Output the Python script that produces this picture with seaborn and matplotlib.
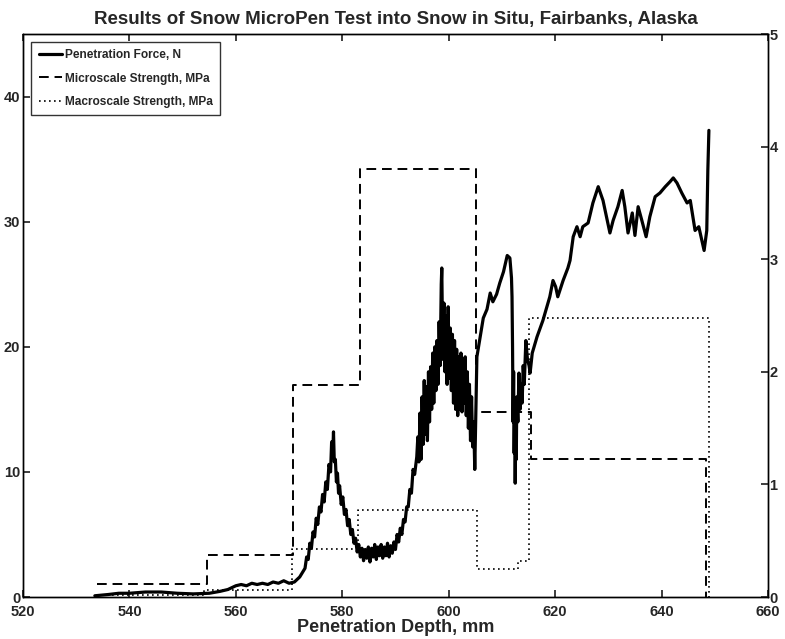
import matplotlib
matplotlib.use("Agg")
import matplotlib.pyplot as plt
import seaborn as sns
import pandas as pd

sns.set_theme(style="white")
plt.rcParams["font.family"] = ["Liberation Sans", "DejaVu Sans"]
plt.rcParams["font.weight"] = "bold"

# Penetration force trace (depth in mm, force in N)
depth_mm = [533.5, 536, 538, 540, 543, 546, 549, 552, 555, 557, 558.5, 560, 561, 562,
            563, 564, 565, 566, 567, 568, 569, 570, 571, 572,
            573.0, 573.3, 573.6, 573.9, 574.2, 574.5, 574.8, 575.1, 575.4, 575.7, 576.0,
            576.3, 576.6, 576.9, 577.2, 577.5, 577.8, 578.0, 578.2, 578.35, 578.5, 578.7,
            578.9, 579.1, 579.3, 579.5, 579.8, 580.1, 580.4, 580.7, 581.0, 581.3, 581.6,
            581.9, 582.2, 582.5, 582.8, 583.1, 583.4, 583.7, 584.0, 584.3, 584.6, 584.9,
            585.2, 585.5, 585.8, 586.1, 586.4, 586.7, 587.0, 587.3, 587.6, 587.9, 588.2,
            588.5, 588.8, 589.1, 589.4, 589.7, 590.0, 590.3, 590.6, 590.9, 591.2, 591.5,
            591.8, 592.1, 592.4, 592.7, 593.0, 593.3, 593.6,
            594.0, 594.2, 594.4, 594.6, 594.8, 595.0, 595.2, 595.4, 595.6, 595.8, 596.0,
            596.2, 596.4, 596.6, 596.8, 597.0, 597.2, 597.4, 597.6, 597.8, 598.0, 598.2,
            598.4, 598.6, 598.7, 598.9, 599.1, 599.3, 599.5, 599.7, 599.9, 600.1, 600.3,
            600.5, 600.7, 600.9, 601.1, 601.3, 601.5, 601.7, 601.9, 602.1, 602.3, 602.5,
            602.7, 602.9, 603.1, 603.3, 603.5, 603.7, 603.9, 604.1, 604.3, 604.5, 604.7,
            604.9, 605.1, 605.3, 605.8, 606.5,
            607.2, 607.8, 608.3, 609, 609.6, 610.3, 611, 611.5, 611.8, 611.9,
            612.0, 612.1, 612.2, 612.3, 612.4, 612.5, 612.6, 612.7, 612.8, 613.0, 613.2,
            613.4, 613.6, 613.8, 614.0, 614.2, 614.5, 614.8, 615.1, 615.3, 615.7,
            616.6, 617.7, 619, 619.6, 620.1, 620.5, 621.5, 622.4, 622.8, 623.4, 624.1,
            624.7, 625.2, 626.2, 627.1, 628.1, 629, 630.3, 630.9, 631.8, 632.6, 633.1,
            633.7, 634.5, 635, 635.6, 636.3, 637.1, 637.8, 638.8, 639.7, 640.7, 641.6,
            642.2, 642.9, 643.8, 644.8, 645.4, 646.3, 647, 648, 648.5, 648.7, 648.9]
force_n = [0.1, 0.2, 0.3, 0.3, 0.4, 0.4, 0.3, 0.25, 0.3, 0.45, 0.6, 0.9, 1.0, 0.9,
           1.1, 1.0, 1.1, 1.0, 1.2, 1.1, 1.3, 1.1, 1.2, 1.6,
           2.3, 3.2, 3.0, 4.3, 3.9, 5.2, 4.8, 6.3, 5.8, 7.2, 6.8,
           8.2, 7.6, 9.2, 8.6, 10.6, 10.0, 12.4, 11.3, 13.2, 10.8, 11.0,
           9.2, 9.9, 8.3, 8.9, 7.4, 8.0, 6.6, 7.0, 5.7, 6.2, 5.0,
           5.4, 4.3, 4.7, 3.6, 4.2, 3.2, 3.9, 2.9, 3.8, 3.1, 4.0,
           2.8, 3.9, 3.2, 4.2, 3.0, 4.0, 3.3, 4.2, 3.1, 4.0, 3.3,
           4.3, 3.2, 4.1, 3.5, 4.4, 3.8, 5.0, 4.4, 5.5, 5.0, 6.2,
           6.0, 7.2, 7.2, 8.6, 8.3, 10.2, 9.8,
           11.2, 12.8, 10.8, 14.7, 11.0, 16.0, 12.2, 17.3, 13.0, 16.8, 12.5,
           18.0, 14.0, 18.4, 15.0, 19.5, 15.5, 20.0, 16.5, 20.5, 17.0, 22.0,
           18.5, 25.0, 26.3, 19.0, 23.5, 18.0, 22.5, 17.0, 23.2, 17.5, 21.5,
           16.5, 21.0, 15.5, 20.5, 15.0, 19.8, 14.5, 19.2, 15.0, 19.5, 14.8,
           19.0, 15.5, 19.2, 14.5, 18.0, 13.5, 17.0, 12.5, 16.0, 12.0, 14.0,
           10.2, 14.5, 19.2, 20.5, 22.3,
           23.0, 24.3, 23.6, 24.2, 25.1, 26.0, 27.3, 27.1, 25.5, 24.0,
           20.0, 14.0, 18.0, 11.5, 15.0, 9.1, 13.5, 11.0, 16.0, 14.0, 17.9,
           15.0, 17.0, 15.5, 18.5, 17.0, 20.5, 19.0, 18.5, 17.9, 19.5,
           20.8, 22.1, 24.0, 25.3, 24.8, 24.0, 25.3, 26.3, 26.9, 28.8, 29.6,
           28.8, 29.6, 29.9, 31.5, 32.8, 31.7, 29.1, 30.1, 31.2, 32.5, 31.2,
           29.1, 30.7, 28.9, 31.2, 30.1, 28.8, 30.4, 32.0, 32.3, 32.8, 33.2,
           33.5, 33.1, 32.3, 31.5, 31.7, 29.3, 29.6, 27.7, 29.3, 34.1, 37.3]

# Layer-averaged strengths (step edges in mm, strength in MPa)
micro_edges = [534.0, 554.6, 570.7, 583.3, 605.1, 615.5, 648.3]
micro_mpa = [0.12, 0.37, 1.88, 3.80, 1.64, 1.23, 0.0]
macro_edges = [534.0, 554.0, 570.5, 583.0, 605.3, 613.0, 615.0, 649.0]
macro_mpa = [0.02, 0.06, 0.43, 0.77, 0.25, 0.32, 2.48, 0.0]

x_ticks = [520, 540, 560, 580, 600, 620, 640, 660]
left_ticks = [0, 10, 20, 30, 40]
right_ticks = [0, 1, 2, 3, 4, 5]

force_df = pd.DataFrame({"depth": depth_mm, "force": force_n})
micro_df = pd.DataFrame({"depth": micro_edges, "mpa": micro_mpa})
macro_df = pd.DataFrame({"depth": macro_edges, "mpa": macro_mpa})

fig = plt.figure(figsize=(7.85, 6.39), dpi=100)
ax = fig.add_axes([0.0293, 0.0657, 0.949, 0.881])
ax2 = ax.twinx()

sns.lineplot(data=force_df, x="depth", y="force", ax=ax, color="black",
             linewidth=2.3, sort=False, estimator=None,
             label="Penetration Force, N", legend=False)
sns.lineplot(data=micro_df, x="depth", y="mpa", ax=ax2, color="black",
             linewidth=1.4, linestyle=(0, (5, 3)),
             drawstyle="steps-post", sort=False, estimator=None,
             label="Microscale Strength, MPa", legend=False)
sns.lineplot(data=macro_df, x="depth", y="mpa", ax=ax2, color="black",
             linewidth=1.2, linestyle=(0, (1, 2)),
             drawstyle="steps-post", sort=False, estimator=None,
             label="Macroscale Strength, MPa", legend=False)

ax.set_xlim(520, 660)
ax.set_ylim(0, 45)
ax2.set_ylim(0, 5)
ax.set_xticks(x_ticks)
ax.set_yticks(left_ticks)
ax2.set_yticks(right_ticks)
ax.set_xticklabels([str(v) for v in x_ticks], fontsize=10.5, fontweight="bold")
ax.set_yticklabels([str(v) for v in left_ticks], fontsize=10.5, fontweight="bold")
ax2.set_yticklabels([str(v) for v in right_ticks], fontsize=10.5, fontweight="bold")

ax.tick_params(axis="x", direction="in", length=5, top=True, bottom=True, pad=6)
ax.tick_params(axis="y", direction="in", length=5, left=True, pad=2)
ax2.tick_params(axis="y", direction="in", length=5, right=True, pad=1)
ax.set_ylabel("")
ax2.set_ylabel("")
ax.set_xlabel("Penetration Depth, mm", fontsize=13, fontweight="bold", labelpad=0)
ax.set_title("Results of Snow MicroPen Test into Snow in Situ, Fairbanks, Alaska",
             fontsize=13.5, fontweight="bold", pad=7)

for a in (ax, ax2):
    for s in a.spines.values():
        s.set_color("black")
        s.set_linewidth(1.0)

handles = ax.get_lines()[:1] + ax2.get_lines()[:2]
labels = ["Penetration Force, N", "Microscale Strength, MPa", "Macroscale Strength, MPa"]
leg = ax2.legend(handles, labels, loc="upper left", bbox_to_anchor=(0.008, 0.99),
                 prop={"weight": "bold", "size": 8.6}, frameon=True, fancybox=False,
                 handlelength=2.0, handletextpad=0.2, borderpad=0.6,
                 labelspacing=0.95, borderaxespad=0.2)
leg.get_frame().set_edgecolor("black")
leg.get_frame().set_linewidth(1.0)

fig.savefig("out.png", dpi=100)
